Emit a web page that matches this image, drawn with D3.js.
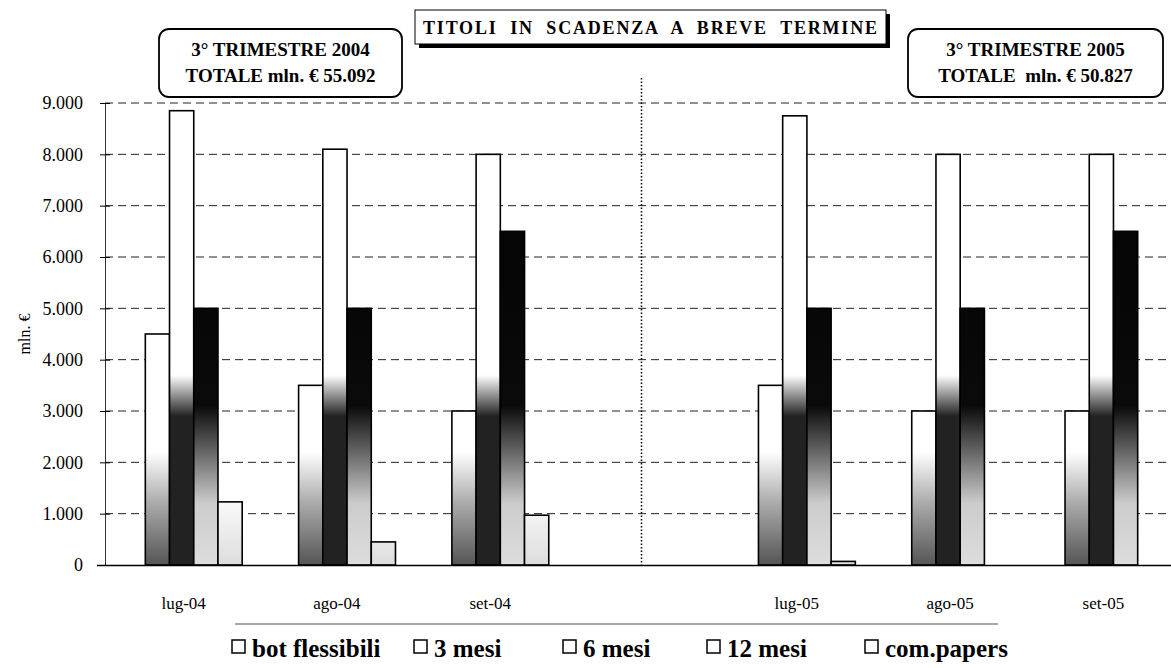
<!DOCTYPE html>
<html><head><meta charset="utf-8">
<script src="https://cdn.jsdelivr.net/npm/d3@7"></script>
<style>body{margin:0;background:#fff}svg{display:block}</style>
</head><body><svg id="c" width="1171" height="668" font-family="'Liberation Serif','DejaVu Serif',serif"></svg>
<script>
const categories = ["lug-04","ago-04","set-04","","lug-05","ago-05","set-05"];
const seriesNames = ["bot flessibili","3 mesi","6 mesi","12 mesi","com.papers"];
const botFlessibili = [0,0,0,null,0,0,0];
const mesi3 = [4500,3500,3000,null,3500,3000,3000];
const mesi6 = [8850,8100,8000,null,8750,8000,8000];
const mesi12 = [5000,5000,6500,null,5000,5000,6500];
const comPapers = [1230,450,970,null,70,0,0];
const yTicks = [0,1000,2000,3000,4000,5000,6000,7000,8000,9000];
const title = "TITOLI  IN  SCADENZA  A  BREVE  TERMINE";
const box2004 = ["3° TRIMESTRE 2004","TOTALE mln. € 55.092"];
const box2005 = ["3° TRIMESTRE 2005","TOTALE  mln. € 50.827"];
const yTitle = "mln. €";

const SERIF = "'Liberation Serif','DejaVu Serif',serif";
const seriesData = [botFlessibili, mesi3, mesi6, mesi12, comPapers];
const svg = d3.select("#c");
const x0 = d3.scaleBand().domain(categories.map((c,i)=>i)).range([105,1178]).paddingInner(0.21).paddingOuter(0.105);
const x1 = d3.scaleBand().domain(seriesNames).range([0,x0.bandwidth()]);
const y = d3.scaleLinear().domain([0,9000]).range([565,103]);
const fmt = d3.format(",");
const fmtIt = v => fmt(v).replace(/,/g,".");

const defs = svg.append("defs");
function grad(id, stops){
  const g = defs.append("linearGradient").attr("id",id).attr("gradientUnits","userSpaceOnUse")
    .attr("x1",0).attr("x2",0).attr("y1",y(9000)).attr("y2",y(0));
  stops.forEach(([v,c])=>g.append("stop").attr("offset",(9000-v)/9000).attr("stop-color",c));
}
grad("g0",[[9000,"#fff"],[2500,"#fff"],[1000,"#999"],[0,"#555"]]);
grad("g1",[[9000,"#fff"],[2200,"#fff"],[1200,"#aaa"],[0,"#555"]]);
grad("g2",[[9000,"#fff"],[3700,"#fff"],[2900,"#222"],[0,"#222"]]);
grad("g3",[[9000,"#000"],[3100,"#0a0a0a"],[2200,"#666"],[1200,"#ccc"],[0,"#ddd"]]);
grad("g4",[[9000,"#fff"],[1500,"#fff"],[0,"#ddd"]]);

svg.append("g").selectAll("line").data(yTicks.filter(d=>d>0)).join("line")
  .attr("x1",105).attr("x2",1171).attr("y1",d=>y(d)).attr("y2",d=>y(d))
  .attr("stroke","#222").attr("stroke-width",1).attr("stroke-dasharray","8,5");

svg.append("line").attr("x1",x0(3)+x0.bandwidth()/2).attr("x2",x0(3)+x0.bandwidth()/2)
  .attr("y1",78).attr("y2",565).attr("stroke","#000").attr("stroke-width",1.5).attr("stroke-dasharray","1.5,2");

const groups = svg.append("g").selectAll("g").data(categories.map((c,i)=>i).filter(i=>categories[i]!=="")).join("g")
  .attr("transform",i=>`translate(${x0(i)},0)`);
groups.selectAll("rect").data(i=>seriesNames.map((s,k)=>({s,k,v:seriesData[k][i]})).filter(d=>d.v>0)).join("rect")
  .attr("x",d=>x1(d.s)).attr("width",x1.bandwidth())
  .attr("y",d=>y(d.v)).attr("height",d=>y(0)-y(d.v))
  .attr("fill",d=>`url(#g${d.k})`).attr("stroke","#000").attr("stroke-width",1.6);

const yAxis = d3.axisLeft(y).tickValues(yTicks).tickFormat(fmtIt).tickSize(0).tickPadding(22);
const ya = svg.append("g").attr("transform","translate(105,0)").call(yAxis);
ya.attr("font-family",SERIF).attr("font-size",18);
ya.select(".domain").attr("stroke","#333").attr("stroke-width",1);
ya.selectAll("text").attr("fill","#000");
ya.selectAll(".tick").append("line").attr("x1",-5).attr("x2",5).attr("stroke","#000");
svg.append("line").attr("x1",97).attr("x2",1171).attr("y1",565.5).attr("y2",565.5).attr("stroke","#000").attr("stroke-width",1.5);
const xAxis = d3.axisBottom(x0).tickFormat(i=>categories[i]).tickSize(0).tickPadding(32);
const xa = svg.append("g").attr("transform","translate(0,565)").call(xAxis);
xa.attr("font-family",SERIF).attr("font-size",17);
xa.select(".domain").remove();
xa.selectAll("text").attr("fill","#000").attr("dx",2);

svg.append("text").attr("transform","translate(30,334) rotate(-90)").attr("text-anchor","middle")
  .attr("font-size",16).text(yTitle);

svg.append("rect").attr("x",419).attr("y",14).attr("width",471).attr("height",34).attr("fill","#000");
svg.append("rect").attr("x",415).attr("y",10).attr("width",471).attr("height",34).attr("fill","#fff").attr("stroke","#000").attr("stroke-width",1);
svg.append("text").attr("x",650).attr("y",34).attr("text-anchor","middle").attr("font-size",18).attr("font-weight","bold")
  .attr("textLength",454).attr("lengthAdjust","spacing").style("white-space","pre").text(title);

function annBox(x,w,lines){
  svg.append("rect").attr("x",x).attr("y",29).attr("width",w).attr("height",68).attr("rx",10)
    .attr("fill","#fff").attr("stroke","#000").attr("stroke-width",1.8);
  lines.forEach((t,k)=>svg.append("text").attr("x",x+w/2).attr("y",56+k*26).attr("text-anchor","middle")
    .attr("font-size",19).attr("font-weight","bold").style("white-space","pre").text(t));
}
annBox(159,243,box2004);
annBox(908,255,box2005);

svg.append("line").attr("x1",235).attr("x2",998).attr("y1",624).attr("y2",624).attr("stroke","#555").attr("stroke-width",1);
const legX = [232,414,563,707,865];
const leg = svg.append("g").selectAll("g").data(seriesNames).join("g").attr("transform",(d,i)=>`translate(${legX[i]},0)`);
leg.append("rect").attr("x",0).attr("y",640).attr("width",13).attr("height",13).attr("fill","#fff").attr("stroke","#000").attr("stroke-width",1.5);
leg.append("text").attr("x",20).attr("y",657).attr("font-size",25).attr("font-weight","bold").text(d=>d);
</script></body></html>
